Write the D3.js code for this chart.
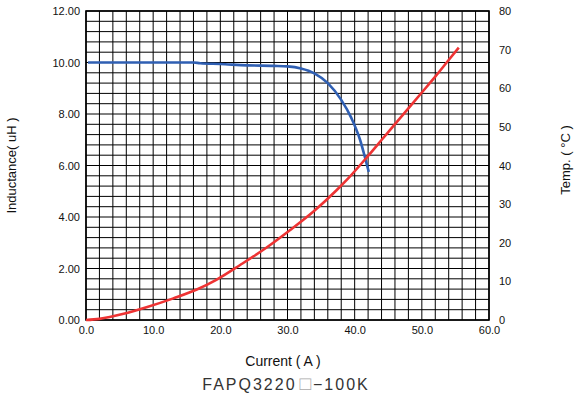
<!DOCTYPE html>
<html>
<head>
<meta charset="utf-8">
<script src="https://cdn.jsdelivr.net/npm/d3@7"></script>
<style>
  body { margin: 0; background: #fff; }
  text { font-family: "Liberation Sans", Arial, sans-serif; fill: #111; }
</style>
</head>
<body>
<svg id="chart"></svg>
<script>
// inductance (uH) vs current (A)
var inductance = [
    [0.3, 10.0], [5, 10.0], [10, 10.0], [14, 10.0], [16, 10.0], [17, 9.97],
    [20, 9.94], [24, 9.89], [28, 9.87], [30, 9.85], [32, 9.77], [34, 9.58],
    [36, 9.2], [38, 8.55], [39.5, 7.85], [40.8, 7.0], [41.5, 6.35], [42.1, 5.75]
];
// temperature rise (C) vs current (A)
var temperature = [
    [0, 0], [2, 0.3], [5.6, 1.6], [9, 3.3], [13, 5.6], [16.5, 7.9], [19.4, 10.4],
    [23, 14.3], [27, 18.9], [30.4, 23.3], [34, 28.3], [37.3, 33.6], [39, 36.6],
    [42, 42.5], [44, 46.6], [46, 50.7], [48, 54.8], [50, 58.9], [52, 63.0],
    [54, 67.3], [55.5, 70.5]
];
var xTicks = [0, 10, 20, 30, 40, 50, 60];
var yLeftTicks = [0, 2, 4, 6, 8, 10, 12];
var yRightTicks = [0, 10, 20, 30, 40, 50, 60, 70, 80];
var xGrid = d3.range(0, 60.001, 2);
var yGrid = d3.range(0, 12.001, 0.4);

var width = 581, height = 405;
var margin = { top: 11, right: 92, bottom: 85, left: 86 };

var svg = d3.select("#chart").attr("width", width).attr("height", height);

var x = d3.scaleLinear().domain([0, 60]).range([margin.left, width - margin.right]);
var yL = d3.scaleLinear().domain([0, 12]).range([height - margin.bottom, margin.top]);
var yR = d3.scaleLinear().domain([0, 80]).range([height - margin.bottom, margin.top]);

// grid
svg.append("g").selectAll("line").data(xGrid).join("line")
    .attr("x1", d => x(d)).attr("x2", d => x(d))
    .attr("y1", yL(0)).attr("y2", yL(12))
    .attr("stroke", "#000").attr("stroke-width", 1);
svg.append("g").selectAll("line").data(yGrid).join("line")
    .attr("x1", x(0)).attr("x2", x(60))
    .attr("y1", d => yL(d)).attr("y2", d => yL(d))
    .attr("stroke", "#000").attr("stroke-width", 1);

// frame
svg.append("rect")
    .attr("x", x(0)).attr("y", yL(12))
    .attr("width", x(60) - x(0)).attr("height", yL(0) - yL(12))
    .attr("fill", "none").attr("stroke", "#000").attr("stroke-width", 1.6);

// axes (labels only)
svg.append("g")
    .attr("transform", `translate(0,${yL(0)})`)
    .call(d3.axisBottom(x).tickValues(xTicks).tickFormat(d3.format(".1f")).tickSize(0).tickPadding(6))
    .call(g => g.select(".domain").remove())
    .call(g => g.selectAll("text").style("font-size", "11px").attr("fill", "#111"));

svg.append("g")
    .attr("transform", `translate(${x(0)},0)`)
    .call(d3.axisLeft(yL).tickValues(yLeftTicks).tickFormat(d3.format(".2f")).tickSize(0).tickPadding(6))
    .call(g => g.select(".domain").remove())
    .call(g => g.selectAll("text").style("font-size", "11px").attr("fill", "#111"));

svg.append("g")
    .attr("transform", `translate(${x(60)},0)`)
    .call(d3.axisRight(yR).tickValues(yRightTicks).tickSize(0).tickPadding(10))
    .call(g => g.select(".domain").remove())
    .call(g => g.selectAll("text").style("font-size", "11px").attr("fill", "#111"));

// curves
var line = d3.line().curve(d3.curveMonotoneX);

svg.append("path")
    .attr("fill", "none")
    .attr("stroke", "#2f5fb3")
    .attr("stroke-width", 2.6)
    .attr("stroke-linejoin", "round")
    .attr("d", line.x(d => x(d[0])).y(d => yL(d[1]))(inductance));

svg.append("path")
    .attr("fill", "none")
    .attr("stroke", "#ee3333")
    .attr("stroke-width", 2.6)
    .attr("stroke-linejoin", "round")
    .attr("d", line.x(d => x(d[0])).y(d => yR(d[1]))(temperature));

// titles
svg.append("text")
    .attr("transform", `translate(16,${(yL(0) + yL(12)) / 2}) rotate(-90)`)
    .attr("text-anchor", "middle")
    .style("font-size", "13px")
    .text("Inductance( uH )");

svg.append("text")
    .attr("transform", `translate(570,160) rotate(-90)`)
    .attr("text-anchor", "middle")
    .style("font-size", "13px")
    .text("Temp. ( °C )");

svg.append("text")
    .attr("x", 283).attr("y", 366)
    .attr("text-anchor", "middle")
    .style("font-size", "14px")
    .text("Current ( A )");

var sub = svg.append("text")
    .attr("x", 286).attr("y", 390)
    .attr("text-anchor", "middle")
    .style("font-size", "16px")
    .style("letter-spacing", "2px")
    .style("fill", "#333");
sub.append("tspan").text("FAPQ3220");
sub.append("tspan").attr("dx", 3).style("fill", "#aaa").style("font-size", "19px").text("□");
sub.append("tspan").text("−100K");
</script>
</body>
</html>
